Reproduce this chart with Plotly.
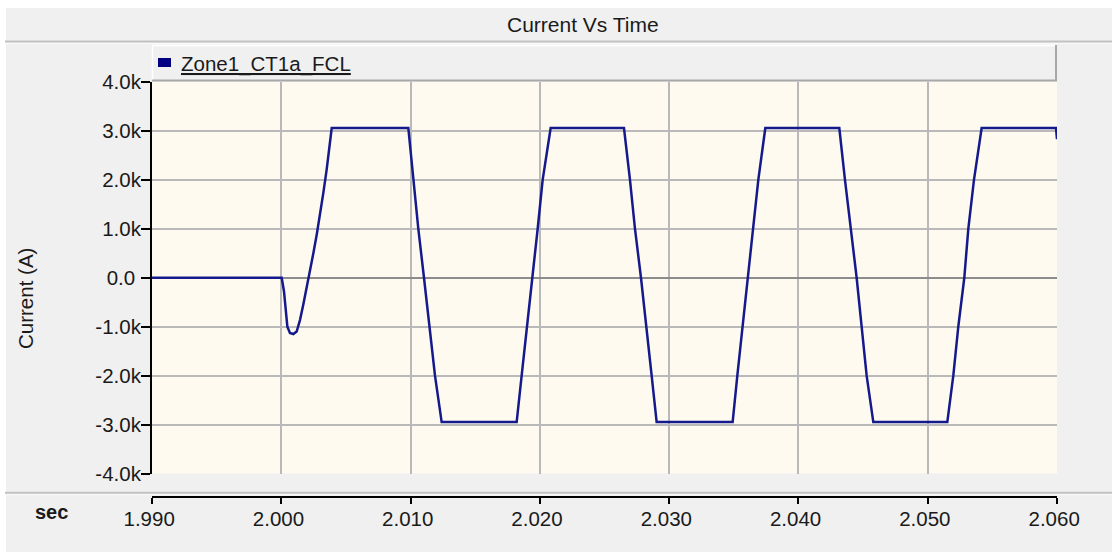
import plotly.graph_objects as go

# ---------------- data ----------------
chart_title = "Current Vs Time"
series_name = "Zone1_CT1a_FCL"
y_title = "Current (A)"
x_unit = "sec"

time_s = [
    1.99000, 2.00003,
    2.00021, 2.00034, 2.00047, 2.00067, 2.00093, 2.00119, 2.00145, 2.00170,
    2.00197, 2.00222, 2.00248, 2.00274, 2.00300, 2.00325, 2.00351, 2.00371,
    2.00390,
    2.009826, 2.010213, 2.010600, 2.011038, 2.011450, 2.011889, 2.012405,
    2.018206, 2.018592, 2.018979, 2.019417, 2.019830, 2.020217, 2.020835,
    2.026507, 2.026971, 2.027358, 2.027822, 2.028209, 2.028647, 2.029034,
    2.034912, 2.035273, 2.035686, 2.036124, 2.036510, 2.036897, 2.037438,
    2.043162, 2.043601, 2.044065, 2.044503, 2.044889, 2.045276, 2.045792,
    2.051515, 2.051979, 2.052366, 2.052830, 2.053140, 2.053578, 2.054171,
    2.059920, 2.060000,
]
current_a = [
    0, 0,
    -280, -690, -1000, -1130, -1150, -1100, -860, -550,
    -210, 130, 500, 880, 1290, 1730, 2210, 2680,
    3060,
    3060, 2000, 1000, 0, -1000, -2000, -2950,
    -2950, -2000, -1000, 0, 1000, 2000, 3060,
    3060, 2000, 1000, 0, -1000, -2000, -2950,
    -2950, -2000, -1000, 0, 1000, 2000, 3060,
    3060, 2000, 1000, 0, -1000, -2000, -2950,
    -2950, -2000, -1000, 0, 1000, 2000, 3060,
    3060, 2830,
]

x_tick_vals = [1.99, 2.00, 2.01, 2.02, 2.03, 2.04, 2.05, 2.06]
x_tick_text = ["1.990", "2.000", "2.010", "2.020", "2.030", "2.040", "2.050", "2.060"]
y_tick_vals = [-4000, -3000, -2000, -1000, 0, 1000, 2000, 3000, 4000]
y_tick_text = ["-4.0k", "-3.0k", "-2.0k", "-1.0k", "0.0", "1.0k", "2.0k", "3.0k", "4.0k"]

# ---------------- layout geometry (pixels) ----------------
W, H = 1112, 552
L, R = 152, 1057      # plot left / right
T = 82                # plot top
XAX = 497             # x-axis line (separate strip)
YBOT = 473.5          # bottom of plotting area

def px(x):
    return (x - L) / (R - L)

def py(y):
    return (XAX - y) / (XAX - T)

NBSP = "\u00a0"
FONT = "Liberation Sans, Arial, sans-serif"
TXT = "#1a1a1a"
GRID = "#b9b9b9"

fig = go.Figure()
fig.add_trace(go.Scatter(
    x=time_s, y=current_a, mode="lines", name=series_name,
    line=dict(color="#14198c", width=2.5), showlegend=False,
))

shapes = []
# white outer strips
shapes.append(dict(type="rect", xref="paper", yref="paper",
                   x0=px(0), x1=px(W), y0=py(0), y1=py(8),
                   fillcolor="white", line=dict(width=0)))
shapes.append(dict(type="rect", xref="paper", yref="paper",
                   x0=px(0), x1=px(6), y0=py(0), y1=py(H),
                   fillcolor="white", line=dict(width=0)))
# separators
for yy in (41.5, 492.7):
    shapes.append(dict(type="line", xref="paper", yref="paper",
                       x0=px(5), x1=px(W), y0=py(yy), y1=py(yy),
                       line=dict(color="#c2c2c2", width=2)))
    shapes.append(dict(type="line", xref="paper", yref="paper",
                       x0=px(5), x1=px(W), y0=py(yy + 2), y1=py(yy + 2),
                       line=dict(color="#fafafa", width=1)))
# legend box
shapes.append(dict(type="rect", xref="paper", yref="paper",
                   x0=px(152), x1=px(1056), y0=py(81), y1=py(45),
                   fillcolor="#f0f0f0", line=dict(width=0)))
shapes.append(dict(type="line", xref="paper", yref="paper",
                   x0=px(152), x1=px(1056), y0=py(45.5), y1=py(45.5),
                   line=dict(color="#ffffff", width=1.5)))
shapes.append(dict(type="line", xref="paper", yref="paper",
                   x0=px(152.5), x1=px(152.5), y0=py(45), y1=py(81),
                   line=dict(color="#ffffff", width=1.5)))
shapes.append(dict(type="line", xref="paper", yref="paper",
                   x0=px(1056), x1=px(1056), y0=py(45), y1=py(81),
                   line=dict(color="#a8a8a8", width=2)))
shapes.append(dict(type="line", xref="paper", yref="paper",
                   x0=px(152), x1=px(1057), y0=py(80.5), y1=py(80.5),
                   line=dict(color="#a8a8a8", width=2)))
# legend marker
shapes.append(dict(type="rect", xref="paper", yref="paper",
                   x0=px(158), x1=px(171), y0=py(67), y1=py(58),
                   fillcolor="#000080", line=dict(width=0)))

annotations = [
    dict(text=chart_title, xref="paper", yref="paper", x=px(582.5), y=py(25),
         xanchor="center", yanchor="middle", showarrow=False,
         font=dict(family=FONT, size=21, color=TXT)),
    dict(text="<u>" + series_name + "</u>", xref="paper", yref="paper",
         x=px(179), y=py(63.5), xanchor="left", yanchor="middle", showarrow=False,
         font=dict(family=FONT, size=20.5, color=TXT)),
    dict(text=y_title, xref="paper", yref="paper", x=px(25), y=py(299),
         xanchor="center", yanchor="middle", textangle=-90, showarrow=False,
         font=dict(family=FONT, size=20.5, color=TXT)),
    dict(text="<b>" + x_unit + "</b>", xref="paper", yref="paper",
         x=px(51.5), y=py(511.5), xanchor="center", yanchor="middle", showarrow=False,
         font=dict(family=FONT, size=20, color=TXT)),
]

fig.update_layout(
    width=W, height=H,
    margin=dict(l=L, r=W - R, t=T, b=H - XAX, pad=0),
    paper_bgcolor="#f0f0f0",
    plot_bgcolor="#fefaf0",
    showlegend=False,
    shapes=shapes,
    annotations=annotations,
    font=dict(family=FONT, size=20.5, color=TXT),
    xaxis=dict(
        range=[1.99, 2.06], anchor="free", position=0,
        tickmode="array", tickvals=x_tick_vals,
        ticktext=[t + NBSP for t in x_tick_text],
        ticks="outside", ticklen=6, tickwidth=2, tickcolor="#000",
        ticklabelstandoff=-3,
        showline=True, linecolor="#000", linewidth=2,
        showgrid=True, gridcolor=GRID, gridwidth=2, zeroline=False,
        tickfont=dict(family=FONT, size=20.5, color=TXT),
    ),
    yaxis=dict(
        range=[-4000, 4000], domain=[py(YBOT), 1],
        tickmode="array", tickvals=y_tick_vals,
        ticktext=[t + NBSP if t == "0.0" else t for t in y_tick_text],
        ticks="outside", ticklen=9, tickwidth=2, tickcolor="#000",
        ticklabelstandoff=-4,
        showline=True, linecolor="#000", linewidth=2,
        showgrid=True, gridcolor=GRID, gridwidth=2,
        zeroline=True, zerolinecolor="#8c8c8c", zerolinewidth=2,
        tickfont=dict(family=FONT, size=20.5, color=TXT),
    ),
)

fig.write_html("out.html")
